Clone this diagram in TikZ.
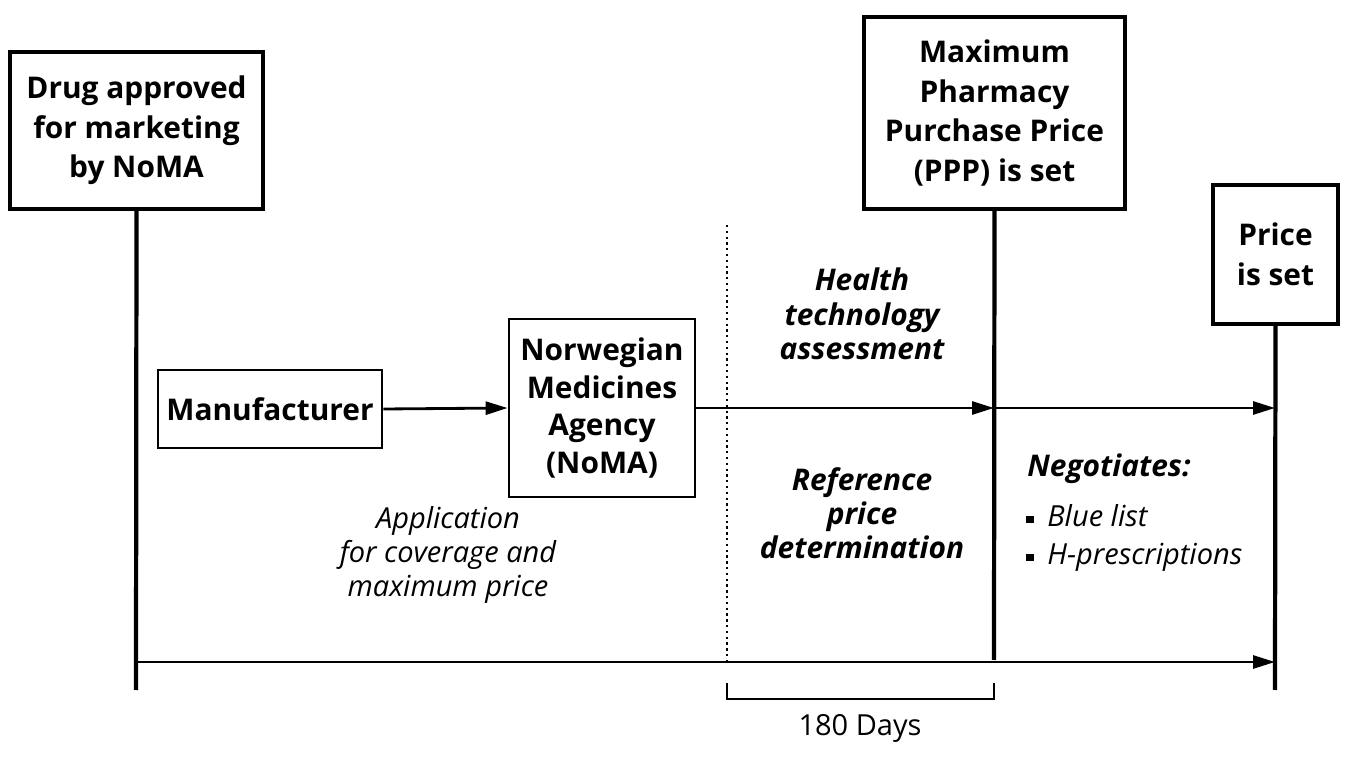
\documentclass[tikz,border=0pt]{standalone}
\usepackage{fontspec}
\setmainfont{Open Sans}
\usetikzlibrary{arrows.meta,positioning}

\begin{document}
\begin{tikzpicture}[x=0.02cm, y=-0.02cm, >={Triangle[length=0.44cm,width=0.26cm]}, font=\fontsize{16.5}{22}\selectfont]
	\tikzset{event/.style={draw, line width=2.2pt, align=center, inner sep=0pt, font=\fontsize{17}{22.5}\selectfont\bfseries},
		agent/.style={draw, line width=1.6pt, align=center, inner sep=0pt, font=\fontsize{17}{21.5}\selectfont\bfseries},
		stage/.style={align=center, font=\fontsize{17}{19.5}\selectfont\bfseries\itshape},
		flow/.style={->, line width=1.6pt},
		mark line/.style={line width=2.4pt},
		bullet/.style={anchor=base west, inner sep=0pt, font=\fontsize{16.5}{20}\selectfont\itshape}}
	\useasboundingbox (0,0) rectangle (1350,763);
	\node[event, minimum width=5.06cm, minimum height=3.14cm] (approved) at (136.5,130.5) {Drug approved\\for marketing\\by NoMA};
	\node[event, minimum width=5.22cm, minimum height=3.84cm] (ppp) at (994.5,113) {Maximum\\Pharmacy\\Purchase Price\\(PPP) is set};
	\node[event, minimum width=2.5cm, minimum height=2.78cm] (price) at (1275.5,254.5) {Price\\is set};
	\node[agent, minimum width=4.48cm, minimum height=1.56cm] (manu) at (270,409) {Manufacturer};
	\node[agent, minimum width=3.72cm, minimum height=3.56cm] (noma) at (602,408) {Norwegian\\Medicines\\Agency\\(NoMA)};
	% time lines
	\coordinate (startend) at (136,690);
	\coordinate (pppend) at (994,660);
	\coordinate (priceend) at (1275,690);
	\draw[mark line] (approved.south) -- (startend);
	\draw[mark line] (ppp.south) -- (pppend);
	\draw[mark line] (price.south) -- (priceend);
	\draw[dotted, line width=1.3pt] (727,225) -- (727,662);
	% flows
	\coordinate (pppmid) at (994,408);
	\coordinate (pricemid) at (1275,408);
	\coordinate (timestart) at (136,662);
	\coordinate (timeend) at (1275,662);
	\draw[flow] (manu.east) -- (noma.west);
	\draw[flow] (noma.east) -- (pppmid);
	\draw[flow] (pppmid) -- (pricemid);
	\draw[flow] (timestart) -- (timeend);
	% labels
	\node[stage] (hta) at (862,314) {Health\\technology\\assessment};
	\node[stage] (refprice) at (862,513) {Reference\\price\\determination};
	\node[align=center, font=\fontsize{16.5}{19.5}\selectfont\itshape] (appl) at (448,555) {Application\\for coverage and\\maximum price};
	\node[bullet, font=\fontsize{17}{20}\selectfont\bfseries\itshape] (nego) at (1027,477) {Negotiates:};
	\node[bullet] (blue) at (1026,527) {\rule[0.08cm]{0.16cm}{0.15cm}\hspace{0.26cm}Blue list};
	\node[bullet] (hpres) at (1026,565) {\rule[0.08cm]{0.16cm}{0.15cm}\hspace{0.26cm}H-prescriptions};
	% 180 days
	\draw[line width=1.6pt] (727,683) -- (727,699) -- (994,699) -- (994,683);
	\node (days) at (860,728) {180 Days};
\end{tikzpicture}
\end{document}
